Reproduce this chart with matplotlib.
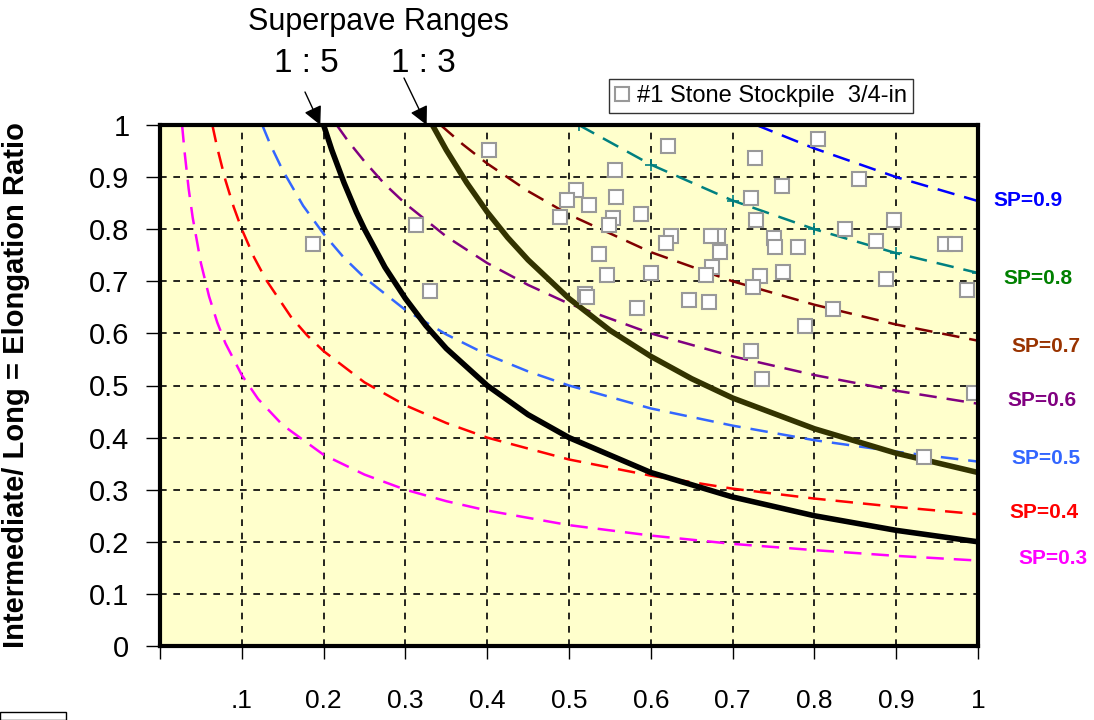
import matplotlib
matplotlib.use('Agg')
import matplotlib.pyplot as plt
from matplotlib.patches import Rectangle

plt.rcParams['font.family'] = ['Liberation Sans', 'DejaVu Sans']

# sphericity curves (flatness ratio x, elongation ratio y)
sp3_x = [0.027, 0.03, 0.035, 0.04, 0.05, 0.06, 0.07, 0.08, 0.1, 0.12, 0.15, 0.2, 0.25,
         0.3, 0.35, 0.4, 0.5, 0.6, 0.7, 0.8, 0.9, 1.0]
sp3_y = [1.0, 0.949, 0.878, 0.822, 0.735, 0.671, 0.621, 0.581, 0.520, 0.474, 0.424, 0.367,
         0.329, 0.300, 0.278, 0.260, 0.232, 0.212, 0.196, 0.184, 0.173, 0.164]
sp4_x = [0.064, 0.07, 0.08, 0.09, 0.1, 0.115, 0.13, 0.16, 0.18, 0.2, 0.25, 0.3, 0.35,
         0.4, 0.5, 0.6, 0.7, 0.8, 0.9, 1.0]
sp4_y = [1.0, 0.956, 0.894, 0.843, 0.8, 0.746, 0.702, 0.632, 0.596, 0.566, 0.506, 0.462,
         0.428, 0.4, 0.358, 0.327, 0.302, 0.283, 0.267, 0.253]
sp5_x = [0.125, 0.135, 0.15, 0.175, 0.2, 0.225, 0.25, 0.3, 0.35, 0.4, 0.45, 0.5, 0.6,
         0.7, 0.8, 0.9, 1.0]
sp5_y = [1.0, 0.962, 0.913, 0.845, 0.791, 0.745, 0.707, 0.645, 0.598, 0.559, 0.527, 0.5,
         0.456, 0.423, 0.395, 0.373, 0.354]
sp6_x = [0.216, 0.23, 0.25, 0.275, 0.3, 0.35, 0.4, 0.45, 0.5, 0.6, 0.7, 0.8, 0.9, 1.0]
sp6_y = [1.0, 0.969, 0.930, 0.886, 0.849, 0.786, 0.735, 0.693, 0.657, 0.6, 0.556, 0.520,
         0.490, 0.465]
sp7_x = [0.343, 0.37, 0.4, 0.45, 0.5, 0.6, 0.7, 0.8, 0.9, 1.0]
sp7_y = [1.0, 0.963, 0.926, 0.873, 0.828, 0.756, 0.7, 0.655, 0.617, 0.586]
sp8_x = [0.512, 0.6, 0.7, 0.8, 0.9, 1.0]
sp8_y = [1.0, 0.924, 0.855, 0.8, 0.754, 0.716]
sp9_x = [0.729, 0.8, 0.9, 1.0]
sp9_y = [1.0, 0.955, 0.9, 0.854]

# superpave limits
r15_x = [0.2, 0.21, 0.225, 0.24, 0.25, 0.275, 0.3, 0.325, 0.35, 0.4, 0.45, 0.5, 0.6,
         0.7, 0.8, 0.9, 1.0]
r15_y = [1.0, 0.952, 0.889, 0.833, 0.8, 0.727, 0.667, 0.615, 0.571, 0.5, 0.444, 0.4,
         0.333, 0.286, 0.25, 0.222, 0.2]
r13_x = [0.333, 0.35, 0.375, 0.4, 0.425, 0.45, 0.5, 0.55, 0.6, 0.65, 0.7, 0.8, 0.9, 1.0]
r13_y = [1.0, 0.952, 0.889, 0.833, 0.784, 0.741, 0.667, 0.606, 0.556, 0.513, 0.476,
         0.417, 0.370, 0.333]

# stockpile measurements
stone_x = [0.402, 0.621, 0.804, 0.727, 0.556, 0.855, 0.760, 0.509, 0.498, 0.524,
           0.558, 0.723, 0.489, 0.588, 0.554, 0.549, 0.728, 0.897, 0.838, 0.625,
           0.619, 0.682, 0.674, 0.751, 0.752, 0.780, 0.875, 0.960, 0.972, 0.684,
           0.537, 0.546, 0.600, 0.675, 0.667, 0.734, 0.762, 0.725, 0.888, 0.986,
           0.519, 0.522, 0.583, 0.647, 0.671, 0.823, 0.789, 0.722, 0.736, 0.995,
           0.187, 0.313, 0.330, 0.934]
stone_y = [0.952, 0.960, 0.973, 0.937, 0.914, 0.896, 0.882, 0.876, 0.856, 0.847,
           0.862, 0.859, 0.824, 0.829, 0.821, 0.808, 0.818, 0.818, 0.800, 0.787,
           0.774, 0.786, 0.787, 0.783, 0.765, 0.765, 0.777, 0.771, 0.771, 0.757,
           0.753, 0.713, 0.715, 0.728, 0.713, 0.710, 0.718, 0.690, 0.704, 0.684,
           0.676, 0.670, 0.648, 0.665, 0.660, 0.646, 0.614, 0.567, 0.512, 0.486,
           0.771, 0.808, 0.682, 0.363]

x_ticks = [0, 0.1, 0.2, 0.3, 0.4, 0.5, 0.6, 0.7, 0.8, 0.9, 1.0]
x_labels = ['', '.1', '0.2', '0.3', '0.4', '0.5', '0.6', '0.7', '0.8', '0.9', '1']
y_ticks = [0, 0.1, 0.2, 0.3, 0.4, 0.5, 0.6, 0.7, 0.8, 0.9, 1.0]
y_labels = ['0', '0.1', '0.2', '0.3', '0.4', '0.5', '0.6', '0.7', '0.8', '0.9', '1']

W, H = 1094, 720
fig = plt.figure(figsize=(W / 100, H / 100), dpi=100)
ax = fig.add_axes([160 / W, 1 - 646 / H, 818 / W, 521 / H])
ax.set_facecolor('#FFFFCC')

dash = (0, (7, 4))
ax.plot(sp3_x, sp3_y, color='#FF00FF', lw=1.8, ls=dash, zorder=3)
ax.plot(sp4_x, sp4_y, color='#FF0000', lw=1.8, ls=dash, zorder=3)
ax.plot(sp5_x, sp5_y, color='#3366FF', lw=1.8, ls=dash, zorder=3)
ax.plot(sp6_x, sp6_y, color='#800080', lw=1.8, ls=dash, zorder=3)
ax.plot(sp7_x, sp7_y, color='#800000', lw=1.8, ls=dash, zorder=3)
ax.plot(sp8_x, sp8_y, color='#008080', lw=1.8, ls=dash, marker='+', ms=9, mew=1.2, zorder=3)
ax.plot(sp9_x, sp9_y, color='#0000FF', lw=1.8, ls=dash, zorder=3)

ax.plot(r15_x, r15_y, color='black', lw=4, zorder=4)
ax.plot(r13_x, r13_y, color='#333300', lw=4, zorder=4)

ax.plot(stone_x, stone_y, ls='none', marker='s', ms=9.5, mfc='white', mec='#999999',
        mew=1.5, zorder=5, label='#1 Stone Stockpile  3/4-in')

ax.set_xlim(0, 1)
ax.set_ylim(0, 1)
ax.set_xticks(x_ticks)
ax.set_xticklabels(x_labels)
ax.set_yticks(y_ticks)
ax.set_yticklabels(y_labels)
ax.tick_params(axis='x', direction='out', length=9, width=1, pad=22, labelsize=19)
ax.tick_params(axis='y', direction='out', length=10, width=1, pad=12, labelsize=21)
ax.grid(True, color='black', lw=1.2, ls=(0, (4, 4)), zorder=1)
ax.set_axisbelow(True)
for s in ax.spines.values():
    s.set_linewidth(3)
    s.set_zorder(6)

ax.set_ylabel('Intermediate/ Long = Elongation Ratio', fontsize=21, fontweight='bold')
ax.yaxis.set_label_coords(-130 / 818, 0.5)

# labels at the right end of each curve
sp_labels = [('SP=0.9', '#0000FF', 1028, 200), ('SP=0.8', '#008000', 1038, 278),
             ('SP=0.7', '#993300', 1046, 346), ('SP=0.6', '#800080', 1042, 400),
             ('SP=0.5', '#3366FF', 1046, 459), ('SP=0.4', '#FF0000', 1044, 512),
             ('SP=0.3', '#FF00FF', 1053, 558)]
for txt, c, px, py in sp_labels:
    fig.text(px / W, 1 - py / H, txt, color=c, fontsize=15, fontweight='bold',
             ha='center', va='center')

fig.text(378 / W, 1 - 22 / H, 'Superpave Ranges', fontsize=22, ha='center', va='center')
fig.text(306 / W, 1 - 63 / H, '1 : 5', fontsize=24, ha='center', va='center')
fig.text(423 / W, 1 - 63 / H, '1 : 3', fontsize=24, ha='center', va='center')

arrow = dict(arrowstyle='-|>', color='black', lw=1, mutation_scale=28, shrinkA=0, shrinkB=0)
ax.annotate('', xy=(0.196, 1.0), xycoords='data', xytext=(305 / W, 1 - 92 / H),
            textcoords='figure fraction', arrowprops=arrow, annotation_clip=False)
ax.annotate('', xy=(0.326, 1.0), xycoords='data', xytext=(404 / W, 1 - 78 / H),
            textcoords='figure fraction', arrowprops=arrow, annotation_clip=False)

leg = ax.legend(loc='center', bbox_to_anchor=(761 / W, 1 - 96 / H),
                bbox_transform=fig.transFigure, fontsize=17, frameon=True,
                fancybox=False, handlelength=0.6, handletextpad=0.3,
                borderpad=0.25, borderaxespad=0)
leg.get_frame().set_edgecolor('black')
leg.get_frame().set_linewidth(1)

fig.patches.append(Rectangle((0, 0), 66 / W, 8 / H, transform=fig.transFigure,
                             fill=False, ec='black', lw=1))

fig.savefig('out.png', dpi=100)
